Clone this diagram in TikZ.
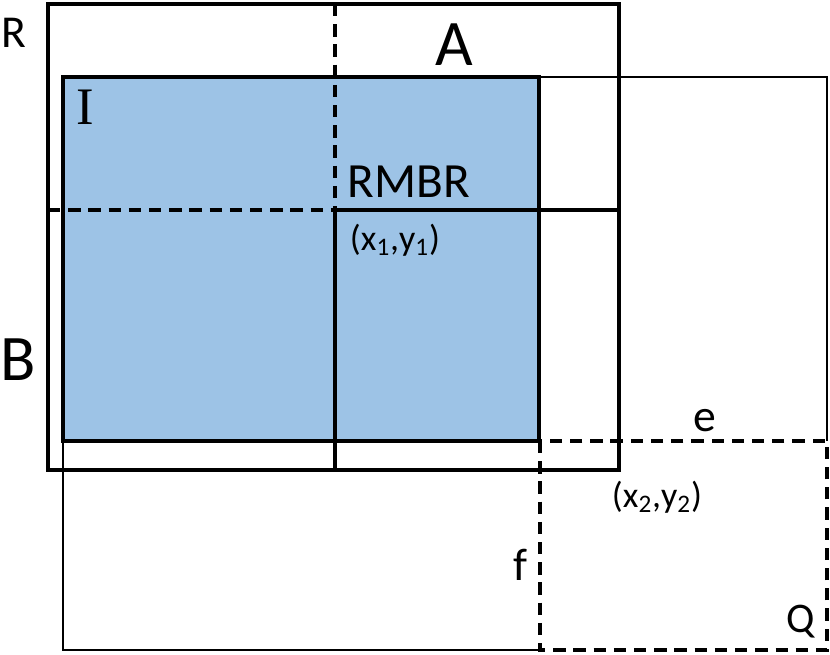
\documentclass[tikz,border=0pt]{standalone}
\usepackage{fontspec}
\setmainfont{Carlito}
\newfontfamily\serifI{Liberation Serif}
\usepackage{xcolor}
\definecolor{cFill}{HTML}{9DC3E6}
\usetikzlibrary{positioning}
\tikzset{
  box-thick/.style={draw=black,line width=2.4pt},
  box-thin/.style={draw=black,line width=0.9pt},
  line-dash/.style={draw=black,line width=2pt,dash pattern=on 7pt off 4.5pt},
  lbl/.style={inner sep=0pt,font=\fontsize{26}{30}\selectfont},
  lbl-big/.style={inner sep=0pt,font=\fontsize{37}{42}\selectfont},
  lbl-small/.style={inner sep=0pt,font=\fontsize{20.5}{24}\selectfont},
}

\begin{document}
\begin{tikzpicture}[x=0.02cm,y=-0.02cm]
  \useasboundingbox (0,0) rectangle (830,654);
  % region I
  \fill[cFill] (63,77) rectangle (539,441);
  % query window Q (thin part)
  \draw[box-thin] (539,77) -- (827,77) -- (827,441);
  \draw[box-thin] (540,650) -- (63,650) -- (63,441);
  \draw[box-thick] (63,77) rectangle (539,441);
  % region R
  \draw[box-thick] (48,4) rectangle (619,470);
  \draw[line-dash] (335,4) -- (335,210);
  \draw[line-dash] (48,210) -- (335,210);
  \draw[box-thick] (335,210) -- (619,210);
  \draw[box-thick] (335,210) -- (335,470);
  \draw[line-dash] (540,441) rectangle (827,650);
  % labels
  \node[lbl] (labR) at (14,33) {R};
  \node[lbl-big] (labA) at (454,45) {A};
  \node[lbl-big] (labB) at (18,360) {B};
  \node[lbl,font=\fontsize{30}{32}\serifI] (labI) at (85,107) {I};
  \node[lbl,font=\fontsize{28}{32}\selectfont] (labRMBR) at (409,182) {RMBR};
  \node[lbl-small] (labP1) at (395,240) {(x\textsubscript{1},y\textsubscript{1})};
  \node[lbl] (labE) at (705,421) {e};
  \node[lbl-small] (labP2) at (657,497) {(x\textsubscript{2},y\textsubscript{2})};
  \node[lbl] (labF) at (520,565) {f};
  \node[lbl,font=\fontsize{24}{28}\selectfont] (labQ) at (801,622) {Q};
\end{tikzpicture}
\end{document}
